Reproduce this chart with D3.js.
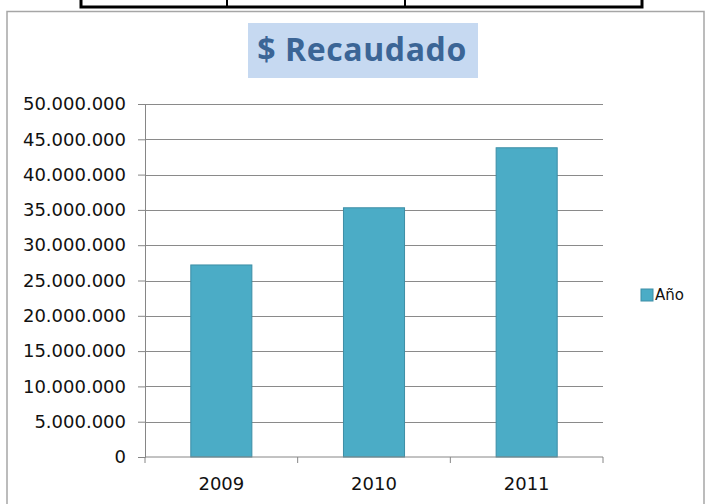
<!DOCTYPE html>
<html>
<head>
<meta charset="utf-8">
<script src="https://cdn.jsdelivr.net/npm/d3@7"></script>
<style>
  body { margin: 0; background: #fff; }
  svg { display: block; }
</style>
</head>
<body>
<div id="recaudado-chart"></div>
<script>
// Data
const years = ["2009", "2010", "2011"];
const recaudado = [27200000, 35300000, 43800000];
const yTicks = [0, 5000000, 10000000, 15000000, 20000000, 25000000, 30000000, 35000000, 40000000, 45000000, 50000000];
const seriesName = "Año";
const chartTitle = "$ Recaudado";

const W = 706, H = 504;
const margin = { top: 104, right: 103, bottom: 47, left: 145 };
const width = W - margin.left - margin.right;
const height = H - margin.top - margin.bottom;

const svg = d3
  .select("#recaudado-chart")
  .append("svg")
  .attr("width", W)
  .attr("height", H);

// Table border peeking in at the top of the page
svg.append("rect")
  .attr("x", 81).attr("y", -10)
  .attr("width", 561).attr("height", 17)
  .attr("fill", "#fff")
  .attr("stroke", "#000")
  .attr("stroke-width", 3);
[227, 405].forEach((xx) => {
  svg.append("line")
    .attr("x1", xx).attr("x2", xx)
    .attr("y1", 0).attr("y2", 6)
    .attr("stroke", "#000")
    .attr("stroke-width", 2);
});

// Chart frame
svg.append("rect")
  .attr("x", 7).attr("y", 11.5)
  .attr("width", 697).attr("height", 520)
  .attr("fill", "#fff")
  .attr("stroke", "#a6a6a6")
  .attr("stroke-width", 1.5);

// Title with its shaded box
svg.append("rect")
  .attr("x", 248).attr("y", 23)
  .attr("width", 230).attr("height", 55)
  .attr("fill", "#c6d9f1");
svg.append("text")
  .attr("x", 362).attr("y", 61)
  .attr("text-anchor", "middle")
  .style("font-family", "'Open Sans', sans-serif")
  .style("font-weight", "bold")
  .style("font-size", "32px")
  .style("letter-spacing", "0.6px")
  .style("fill", "#3b6596")
  .text(chartTitle);

const g = svg.append("g")
  .attr("transform", `translate(${margin.left},${margin.top})`);

// Scales
const x = d3.scaleBand()
  .domain(years)
  .range([0, width])
  .paddingInner(0.6)
  .paddingOuter(0.3);
const y = d3.scaleLinear()
  .domain([0, d3.max(yTicks)])
  .range([height, 0]);

const fmt = d3.formatLocale({ decimal: ",", thousands: ".", grouping: [3], currency: ["$", ""] }).format(",");

const labelFont = (sel) => sel
  .style("font-family", "'DejaVu Sans', sans-serif")
  .style("font-size", "18px")
  .style("fill", "#111");

// Grid lines
g.append("g")
  .selectAll("line")
  .data(yTicks.filter((t) => t > 0))
  .enter()
  .append("line")
  .attr("x1", 0).attr("x2", width)
  .attr("y1", (d) => Math.round(y(d)) + 0.5)
  .attr("y2", (d) => Math.round(y(d)) + 0.5)
  .attr("stroke", "#8a8a8a")
  .attr("stroke-width", 1);

// Bars
g.selectAll(".bar")
  .data(years)
  .enter()
  .append("rect")
  .attr("class", "bar")
  .attr("x", (d) => x(d))
  .attr("width", x.bandwidth())
  .attr("y", (d, i) => y(recaudado[i]))
  .attr("height", (d, i) => height - y(recaudado[i]))
  .attr("fill", "#4bacc6")
  .attr("stroke", "#3d8ea6")
  .attr("stroke-width", 1);

// Y axis
const yAxis = g.append("g")
  .call(d3.axisLeft(y).tickValues(yTicks).tickSize(7).tickPadding(12).tickFormat(fmt));
yAxis.select(".domain").attr("stroke", "#868686");
yAxis.selectAll(".tick line").attr("stroke", "#868686");
yAxis.selectAll(".tick text").call(labelFont);

// X axis (ticks sit on the category boundaries)
const xAxis = g.append("g")
  .attr("transform", `translate(0,${height})`)
  .call(d3.axisBottom(x).tickSize(0).tickPadding(20));
xAxis.select(".domain").remove();
xAxis.selectAll(".tick text").call(labelFont);
xAxis.append("line")
  .attr("x1", 0).attr("x2", width)
  .attr("stroke", "#868686");
const bounds = d3.range(years.length + 1).map((i) => i * width / years.length);
xAxis.selectAll(".bound")
  .data(bounds)
  .enter()
  .append("line")
  .attr("class", "bound")
  .attr("x1", (d) => d).attr("x2", (d) => d)
  .attr("y1", 0).attr("y2", 6)
  .attr("stroke", "#868686");

// Legend
const legend = svg.append("g")
  .attr("transform", "translate(641,289)");
legend.append("rect")
  .attr("width", 12).attr("height", 12)
  .attr("fill", "#4bacc6")
  .attr("stroke", "#3d8ea6");
legend.append("text")
  .attr("x", 14).attr("y", 6)
  .attr("dy", ".35em")
  .style("font-family", "'DejaVu Sans', sans-serif")
  .style("font-size", "15px")
  .style("fill", "#111")
  .text(seriesName);
</script>
</body>
</html>
